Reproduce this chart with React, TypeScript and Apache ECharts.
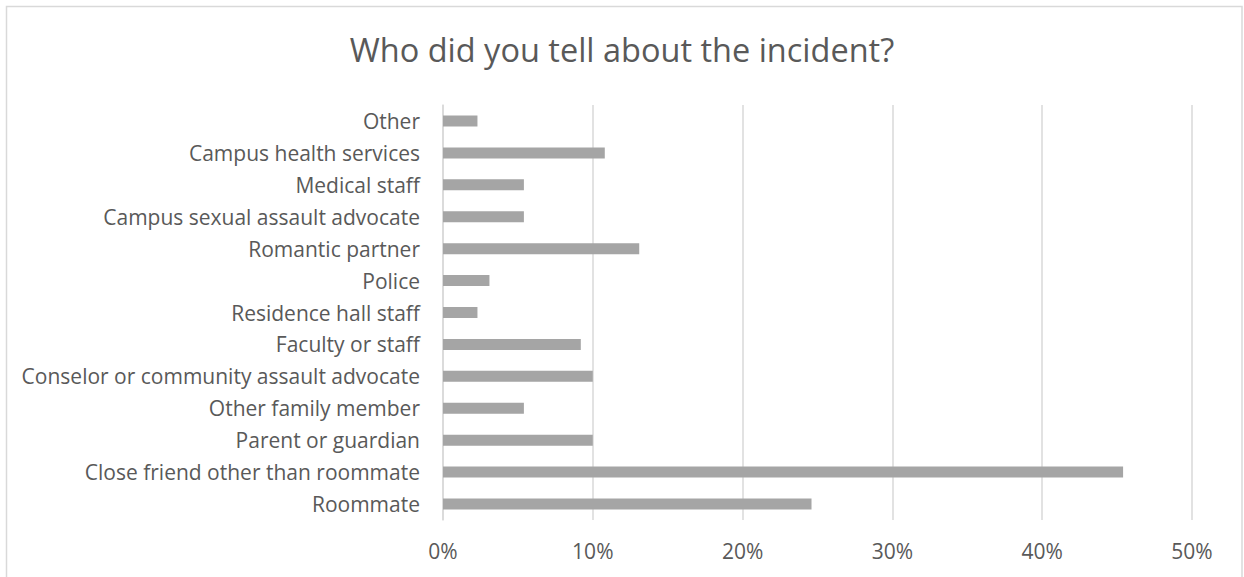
import React, { useEffect, useRef } from "react";
import * as echarts from "echarts";

const titleText = "Who did you tell about the incident?";
const categories = [
  "Other",
  "Campus health services",
  "Medical staff",
  "Campus sexual assault advocate",
  "Romantic partner",
  "Police",
  "Residence hall staff",
  "Faculty or staff",
  "Conselor or community assault advocate",
  "Other family member",
  "Parent or guardian",
  "Close friend other than roommate",
  "Roommate",
];
const values = [2.3, 10.8, 5.4, 5.4, 13.1, 3.1, 2.3, 9.2, 10.0, 5.4, 10.0, 45.4, 24.6];
const xTicks = { min: 0, max: 50, interval: 10 };

export default function App() {
  const ref = useRef<HTMLDivElement>(null);
  useEffect(() => {
    document.body.style.margin = "0";
    const chart = echarts.init(ref.current!, null, { renderer: "svg" });
    const font = "'Open Sans', sans-serif";
    chart.setOption({
      animation: false,
      backgroundColor: "#ffffff",
      title: {
        text: titleText,
        left: "center",
        top: 28,
        textStyle: { fontFamily: font, fontSize: 32.5, fontWeight: "normal", color: "#595959" },
      },
      graphic: [
        {
          type: "rect",
          shape: { x: 6.5, y: 6.5, width: 1235.5, height: 580 },
          style: { fill: "none", stroke: "#d9d9d9", lineWidth: 1.5 },
          silent: true,
        },
      ],
      grid: { left: 443, right: 52, top: 105, bottom: 57, containLabel: false },
      xAxis: {
        type: "value",
        min: xTicks.min,
        max: xTicks.max,
        interval: xTicks.interval,
        axisLine: { show: false },
        axisTick: { show: false },
        splitLine: { lineStyle: { color: "#d9d9d9", width: 1.5 } },
        axisLabel: {
          formatter: "{value}%",
          color: "#595959",
          fontFamily: font,
          fontSize: 21,
          margin: 20,
        },
      },
      yAxis: {
        type: "category",
        inverse: true,
        data: categories,
        axisLine: { show: true, lineStyle: { color: "#d9d9d9", width: 1.5 } },
        axisTick: { show: false },
        axisLabel: { color: "#595959", fontFamily: font, fontSize: 21, margin: 23 },
      },
      series: [
        {
          type: "bar",
          data: values,
          barWidth: 11,
          itemStyle: { color: "#a5a5a5" },
          silent: true,
        },
      ],
    });
    return () => chart.dispose();
  }, []);
  return <div ref={ref} style={{ position: "fixed", left: 0, top: 0, width: 1244, height: 577 }} />;
}
